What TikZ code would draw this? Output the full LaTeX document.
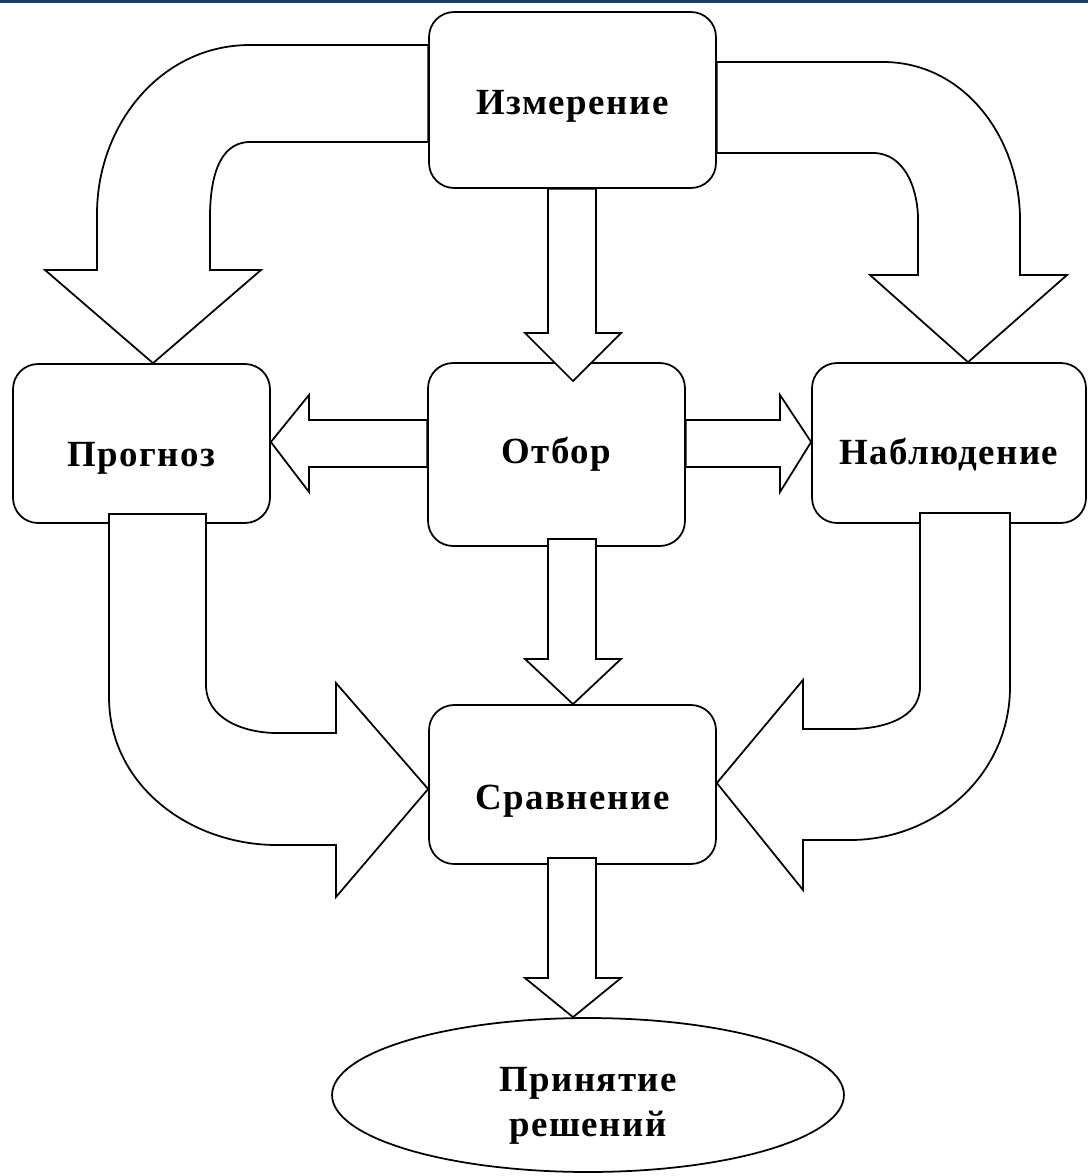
\documentclass[tikz,border=0pt]{standalone}
\usepackage{fontspec}
\setmainfont{Liberation Serif}[LetterSpace=4]
\usepackage{tikz}
\usetikzlibrary{shapes.geometric, calc}
\definecolor{topbar}{HTML}{1F3D5F}
% lower a label inside its box without changing the box
\newcommand{\lowerlabel}[2]{\raisebox{-#1}[\height][\depth]{#2}}

\tikzset{
  box/.style={draw, rectangle, rounded corners=0.5cm, line width=1pt, fill=white,
    inner sep=0pt, font=\bfseries\fontsize{21}{25.5}\selectfont},
  ell/.style={draw, ellipse, line width=1pt, fill=white, inner sep=0pt,
    font=\bfseries\fontsize{21}{25.5}\selectfont},
  blockarrow/.style={draw, fill=white, line width=1pt, line join=miter}
}

\begin{document}
\begin{tikzpicture}[x=0.02cm, y=-0.02cm]
		\useasboundingbox (0,0) rectangle (1088,1176);
		\fill[topbar] (0,0) rectangle (1088,3);
		% boxes:
		\node[box, minimum width=5.74cm, minimum height=3.52cm] (izm) at (572.5,100) {\lowerlabel{0.12cm}{Измерение}};
		\node[box, minimum width=5.14cm, minimum height=3.66cm] (otb) at (556.5,454.5) {Отбор};
		\node[box, minimum width=5.14cm, minimum height=3.18cm] (prog) at (141.5,443.5) {\lowerlabel{0.3cm}{Прогноз}};
		\node[box, minimum width=5.48cm, minimum height=3.2cm] (nabl) at (949,443) {\lowerlabel{0.22cm}{Наблюдение}};
		\node[box, minimum width=5.74cm, minimum height=3.18cm] (srav) at (572.5,784.5) {\lowerlabel{0.34cm}{Сравнение}};
		\node[ell, minimum width=10.24cm, minimum height=3.08cm] (prin) at (588,1095)
			{\lowerlabel{0.2cm}{\begin{tabular}{@{}c@{}}Принятие\\решений\end{tabular}}};
		%
		% bent arrows from the top box
		\draw[blockarrow] (izm.west |- 0,45) -- (250,45) to[out=180, in=90] (97,214) -- (97,270) -- (45,270)
			-- (153,0 |- prog.north) -- (261,270) -- (210,270) -- (210,217) to[out=90, in=180] (250,142)
			-- (izm.west |- 0,142) -- cycle;
		\draw[blockarrow] (izm.east |- 0,62) -- (883,62) to[out=0, in=90] (1020,220) -- (1020,275) -- (1067,275)
			-- (968,0 |- nabl.north) -- (870,275) -- (918,275) -- (918,220) to[out=90, in=0] (873,153)
			-- (izm.east |- 0,153) -- cycle;
		% straight arrows
		\draw[blockarrow] (548,0 |- izm.south) -- (548,333) -- (525,333) -- (573,381) -- (621,333) -- (596,333)
			-- (596,0 |- izm.south) -- cycle;
		\draw[blockarrow] (otb.west |- 0,420) -- (309,420) -- (309,395) -- (prog.east |- 0,442) -- (309,492)
			-- (309,467) -- (otb.west |- 0,467) -- cycle;
		\draw[blockarrow] (otb.east |- 0,420) -- (780,420) -- (780,395) -- (nabl.west |- 0,442) -- (780,492)
			-- (780,467) -- (otb.east |- 0,467) -- cycle;
		\draw[blockarrow] (548,539) -- (548,659) -- (525,659) -- (573,0 |- srav.north) -- (621,659) -- (596,659)
			-- (596,539) -- cycle;
		\draw[blockarrow] (548,858) -- (548,978) -- (525,978) -- (573,0 |- prin.north) -- (621,978) -- (596,978)
			-- (596,858) -- cycle;
		% bent arrows into the comparison box
		\draw[blockarrow] (109,514) -- (109,697) to[out=270, in=180] (277,845) -- (336,845) -- (336,897)
			-- (srav.west |- 0,789) -- (336,683) -- (336,733) -- (277,733) to[out=180, in=270] (206,685)
			-- (206,514) -- cycle;
		\draw[blockarrow] (1010,513) -- (1010,687) to[out=270, in=0] (850,840) -- (803,840) -- (803,890)
			-- (srav.east |- 0,783) -- (803,680) -- (803,729) -- (850,729) to[out=0, in=270] (920,687)
			-- (920,513) -- cycle;
	\end{tikzpicture}
\end{document}
